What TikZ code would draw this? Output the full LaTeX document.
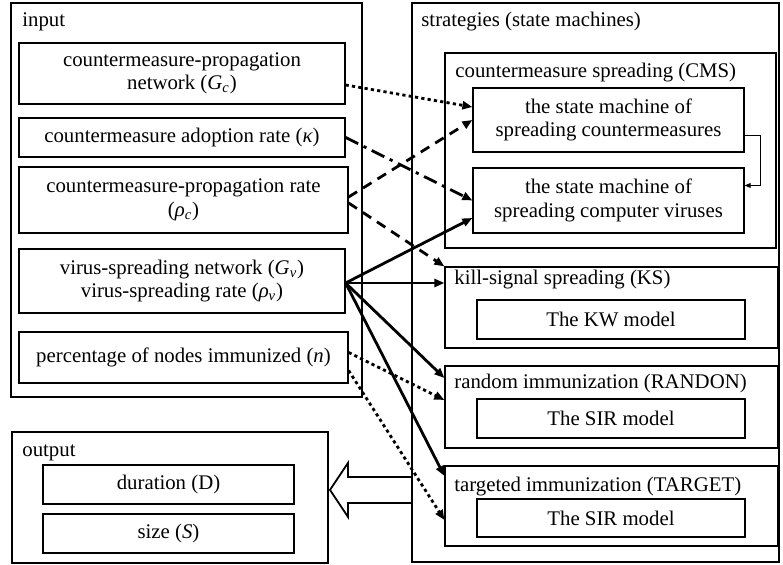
\documentclass[tikz,border=0pt]{standalone}
\usepackage{fontspec}
\setmainfont{Liberation Serif}
\newfontfamily\tmsfont{Liberation Serif}
\usetikzlibrary{arrows.meta,calc}

\begin{document}
\begin{tikzpicture}[x=0.5pt,y=-0.5pt,
  font=\tmsfont\fontsize{10.4}{11.8}\selectfont,
  frame/.style={draw,line width=1.3pt,inner sep=0pt},
  box/.style={draw,line width=0.6pt,align=center,inner sep=0pt},
  lbl/.style={anchor=west,inner sep=0pt},
  a/.style={-{Triangle[length=5pt,width=4pt]},line width=1.4pt},
  adot/.style={a,dash pattern=on 1.6pt off 1.6pt},
  adash/.style={a,dash pattern=on 5pt off 3.5pt},
  adashdot/.style={a,dash pattern=on 7pt off 3pt on 1.6pt off 3pt}]
 \useasboundingbox (0,0) rectangle (783,565);
 % input
 \node[frame,minimum width=175.5pt,minimum height=197pt] (inp) at (186.5,200) {};
 \node[lbl] (inpl) at (22,22) {input};
 \node[box,minimum width=163pt,minimum height=30.5pt] (gc) at (182,73.5) {countermeasure-propagation\\network (\textit{G}\textsubscript{\textit{c}})};
 \node[box,minimum width=163pt,minimum height=19.5pt] (kap) at (182,137.5) {countermeasure adoption rate (\textit{κ})};
 \node[box,minimum width=164.5pt,minimum height=33pt] (rc) at (183.5,200) {countermeasure-propagation rate\\(\textit{ρ}\textsubscript{\textit{c}})};
 \node[box,minimum width=163pt,minimum height=32pt] (gv) at (182,281) {virus-spreading network (\textit{G}\textsubscript{\textit{v}})\\virus-spreading rate (\textit{ρ}\textsubscript{\textit{v}})};
 \node[box,minimum width=164.5pt,minimum height=25.5pt] (nn) at (183.5,357.5) {percentage of nodes immunized (\textit{n})};
 % strategies
 \node[frame,minimum width=183.5pt,minimum height=279.5pt] (str) at (595.5,282.5) {};
 \node[lbl] (strl) at (421,22) {strategies (state machines)};
 \node[box,minimum width=165.5pt,minimum height=97.5pt] (cms) at (610.5,150.5) {};
 \node[lbl] (cmsl) at (455,73) {countermeasure spreading (CMS)};
 \node[box,minimum width=135.5pt,minimum height=32pt] (sm1) at (608.5,120) {the state machine of\\spreading countermeasures};
 \node[box,minimum width=135.5pt,minimum height=32.5pt] (sm2) at (608.5,200.5) {the state machine of\\spreading computer viruses};
 \node[box,minimum width=166.5pt,minimum height=40.5pt] (ks) at (611.5,307.5) {};
 \node[lbl] (ksl) at (454,280) {kill-signal spreading (KS)};
 \node[box,minimum width=134pt,minimum height=19.5pt] (kw) at (611,319.5) {The KW model};
 \node[box,minimum width=166.5pt,minimum height=41pt] (ran) at (611.5,407) {};
 \node[lbl] (ranl) at (454,384) {random immunization (RANDON)};
 \node[box,minimum width=134pt,minimum height=19.5pt] (sir1) at (611,418.5) {The SIR model};
 \node[box,minimum width=166.5pt,minimum height=40pt] (tar) at (611.5,506) {};
 \node[lbl] (tarl) at (454,487) {targeted immunization (TARGET)};
 \node[box,minimum width=134pt,minimum height=19pt] (sir2) at (611,518) {The SIR model};
 % output
 \node[frame,minimum width=158pt,minimum height=65.5pt] (out) at (170,497.5) {};
 \node[lbl] (outl) at (22,453) {output};
 \node[box,minimum width=125.5pt,minimum height=19.5pt] (dur) at (168.5,484.5) {duration (D)};
 \node[box,minimum width=125.5pt,minimum height=19.5pt] (siz) at (168.5,533.5) {size (\textit{S})};
 % connectors
 \draw[adot] ($(gc.east)+(0,11.5)$) -- ($(sm1.west)+(0,-13)$);
 \draw[adashdot] (kap.east) -- (sm2.west);
 \draw[adash] ($(rc.east)+(0,-3)$) -- (sm1.west);
 \draw[adash] ($(rc.east)+(0,3)$) -- (ks.north west);
 \draw[a] ($(gv.east)+(0,2)$) -- ($(sm2.west)+(0,17.5)$);
 \draw[a] ($(gv.east)+(0,2)$) -- ($(ks.west)+(0,-24.5)$);
 \draw[a] ($(gv.east)+(0,2)$) -- ($(ran.west)+(0,-29)$);
 \draw[a] ($(gv.east)+(0,2)$) -- ($(tar.west)+(0,-30)$);
 \draw[adot] ($(nn.east)+(0,-5)$) -- ($(ran.west)+(0,-7)$);
 \draw[adot] ($(nn.east)+(0,13)$) -- ($(tar.west)+(0,14)$);
 \draw[-{Triangle[length=3pt,width=2.4pt]},line width=0.4pt] ($(sm1.east)+(0,15)$) -- ++(16,0) |- ($(sm2.east)+(0,-15)$);
 % hollow result arrow
 \draw[line width=0.9pt] (412,477) -- (348,477) -- (348,463) -- (330,490) -- (348,517) -- (348,503) -- (412,503);
\end{tikzpicture}
\end{document}
